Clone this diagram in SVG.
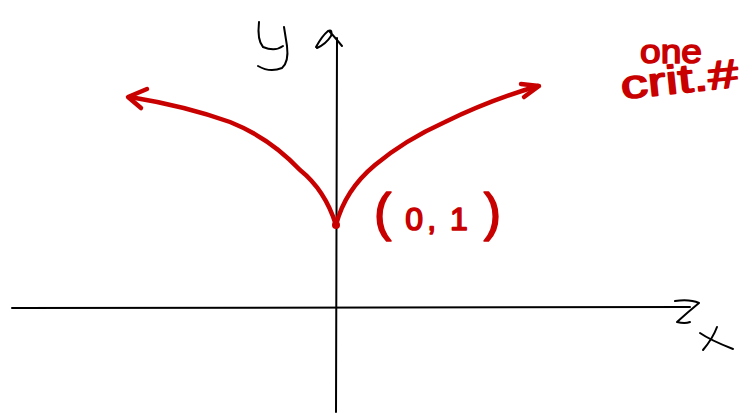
<svg xmlns="http://www.w3.org/2000/svg" width="752" height="413" viewBox="0 0 752 413">
<style>
.ax{fill:none;stroke:#000;stroke-width:2;stroke-linecap:round;stroke-linejoin:round}
.cv{fill:none;stroke:#c80000;stroke-width:4.5;stroke-linecap:round;stroke-linejoin:round}
.rl{font-family:"Liberation Sans",Arial,sans-serif;fill:#c80000;stroke:#c80000;stroke-width:1.6;stroke-linejoin:round}
</style>
<rect width="752" height="413" fill="#fff"/>
<g id="axes">
<path class="ax" d="M12 308 L690 307"/>
<path class="ax" d="M675 301 Q690 299 699 303 Q688 312 677 322 Q685 324 690 322"/>
<path class="ax" d="M337 38 L336 412"/>
<path class="ax" d="M316 47 Q322 36 328 31 Q333 29 331 36 Q326 44 317 48 M329 31 Q333 35 342 46"/>
</g>
<g id="labels-axes">
<path class="ax" d="M259 22 Q257 40 263 47 Q275 52 283 46 M284 27 L287 46 Q289 62 282 68 Q270 73 258 66"/>
<path class="ax" d="M717 327 Q713 338 703 350 M700 333 Q710 340 733 349"/>
</g>
<g id="connectors">
<path class="cv" d="M336 225 Q325 190 300 170 Q270 138 230 122 Q185 106 130 97"/>
<path class="cv" d="M147 89 L128 97 L141 108"/>
<path class="cv" d="M336 225 Q345 190 375 165 Q405 140 445 122 Q490 100 538 86"/>
<path class="cv" d="M521 84 L539 86 L524 97"/>
</g>
<g id="point">
<circle cx="336" cy="225" r="4" fill="#c80000"/>
<text class="rl" x="374" y="230" font-size="32"><tspan font-size="52">(</tspan><tspan dx="14">0</tspan><tspan dx="4">,</tspan><tspan dx="14">1</tspan><tspan font-size="52" dx="16">)</tspan></text>
</g>
<g id="note">
<text class="rl" x="640" y="63" font-size="34" textLength="62" lengthAdjust="spacingAndGlyphs">one</text>
<text class="rl" x="622" y="99" font-size="40" textLength="118" lengthAdjust="spacingAndGlyphs" transform="rotate(-6 622 99)">crit.#</text>
</g>
</svg>
